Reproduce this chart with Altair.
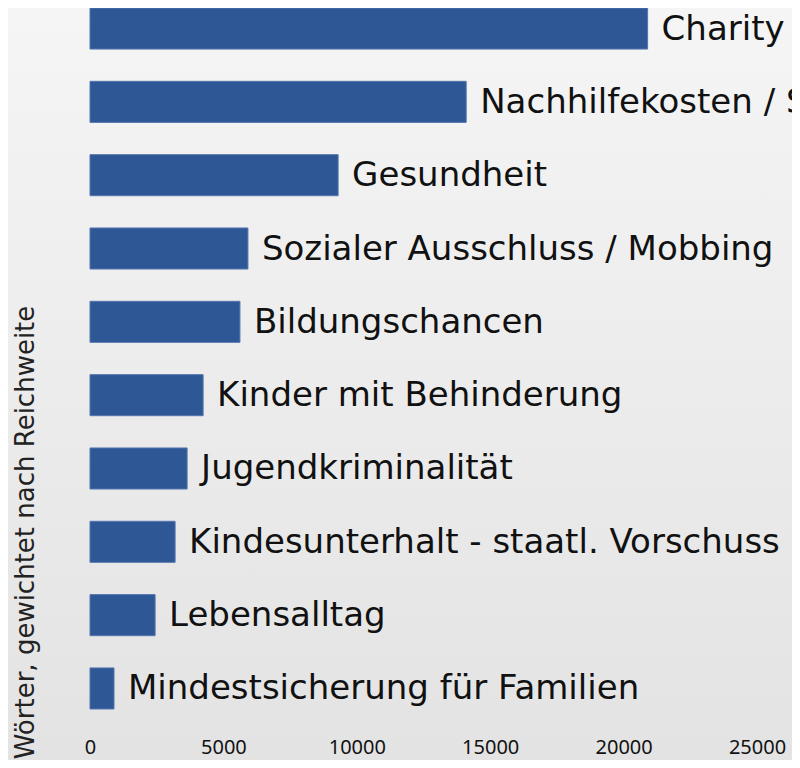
import altair as alt
import pandas as pd

categories = [
    "Charity",
    "Nachhilfekosten / Schulkosten",
    "Gesundheit",
    "Sozialer Ausschluss / Mobbing",
    "Bildungschancen",
    "Kinder mit Behinderung",
    "Jugendkriminalität",
    "Kindesunterhalt - staatl. Vorschuss",
    "Lebensalltag",
    "Mindestsicherung für Familien",
]
values = [20900, 14100, 9300, 5920, 5620, 4240, 3640, 3190, 2440, 900]
x_ticks = [0, 5000, 10000, 15000, 20000, 25000]

df = pd.DataFrame({"Thema": categories, "Wert": values})

FONT = "DejaVu Sans"
W, H = 667, 701
TOTAL_W, TOTAL_H = 784, 752

bg = alt.Chart(pd.DataFrame({"a": [0]})).mark_rect(
    fill=alt.Gradient(
        gradient="linear",
        stops=[alt.GradientStop(color="#f5f5f5", offset=0),
               alt.GradientStop(color="#e3e3e3", offset=1)],
        x1=0, x2=0, y1=0, y2=1,
    )
).encode(
    x=alt.value(-82), x2=alt.value(TOTAL_W - 82), y=alt.value(0), y2=alt.value(TOTAL_H)
)

y_enc = alt.Y(
    "Thema:N",
    sort=categories,
    scale=alt.Scale(paddingInner=0.44, paddingOuter=0),
    axis=alt.Axis(
        labels=False, ticks=False, domain=False, grid=False, zindex=2,
        title="Wörter, gewichtet nach Reichweite",
        titleFont=FONT, titleFontSize=26, titleFontWeight="normal",
        titleColor="#222222", titleAngle=-90, titleAlign="center",
        titleBaseline="alphabetic", titleX=-57, titleY=524,
    ),
)

x_enc = alt.X(
    "Wert:Q",
    scale=alt.Scale(domain=[0, 25000], nice=False),
    axis=alt.Axis(
        values=x_ticks, grid=False, domain=False, ticks=False, tickSize=0,
        zindex=2,
        labelFont="Noto Sans", labelFontSize=20, labelColor="#111111",
        labelBaseline="middle", labelPadding=38, format="d", title=None,
        labelFlush=False,
    ),
)

bars = alt.Chart(df).mark_bar(
    color="#2E5796", stroke="#5676AE", strokeWidth=1
).encode(x=x_enc, y=y_enc)

labels = alt.Chart(df).mark_text(
    align="left", baseline="middle", dx=14, dy=1,
    font=FONT, fontSize=34, color="#111111"
).encode(x=alt.X("Wert:Q"), y=alt.Y("Thema:N", sort=categories), text="Thema:N")

chart = alt.layer(bg, bars, labels).properties(
    width=W, height=H,
    autosize=alt.AutoSizeParams(type="none"),
    padding={"left": 82, "top": 0, "right": TOTAL_W - 82 - W, "bottom": TOTAL_H - H},
).configure_view(stroke=None).configure(background="#ececec")

chart.save("out.html", embed_options={"renderer": "svg", "actions": False})
